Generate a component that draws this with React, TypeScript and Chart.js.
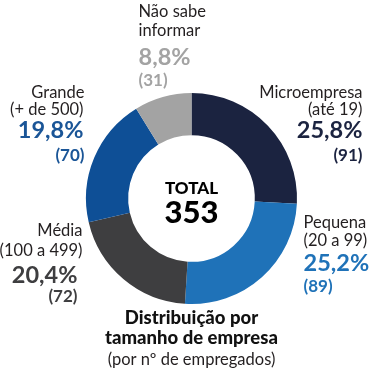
import React, { useEffect, useRef } from "react";
import { Chart, registerables } from "chart.js";

Chart.register(...registerables);

const categories = ["Microempresa", "Pequena", "Média", "Grande", "Não sabe"];
const subLabels = ["(até 19)", "(20 a 99)", "(100 a 499)", "(+ de 500)", "informar"];
const counts = [91, 89, 72, 70, 31];
const sliceColors = ["#1b2340", "#1f72b8", "#3e3e40", "#0e4f96", "#a3a3a3"];
const valueColors = ["#1b2340", "#1f72b8", "#3e3e40", "#1a5597", "#a3a3a3"];
const centerTitle = "TOTAL";
const captionLines = ["Distribuição por", "tamanho de empresa", "(por nº de empregados)"];

const FONT = "Lato, 'Open Sans', sans-serif";
const TEXT = "#231f20";

const total = counts.reduce((a, b) => a + b, 0);
const pct = (v: number) => ((v / total) * 100).toFixed(1).replace(".", ",") + "%";

// label layout: anchor offsets relative to doughnut center (dx, dy of first baseline), alignment
const labelLayout = [
  { dx: 171, dy: -101, align: "right", lines: [0, 17, 40, 63], xs: [0, 0, 0, 0] },
  { dx: 112, dy: 29, align: "left", lines: [0, 18, 43, 64], xs: [0, 0, 0, 0] },
  { dx: -109, dy: 37, align: "right", lines: [0, 20, 47, 66], xs: [0, 0, -5, -5] },
  { dx: -107, dy: -101, align: "right", lines: [0, 17, 40, 63], xs: [0, -1, -1, 0] },
  { dx: -53, dy: -182, align: "left", lines: [0, 19, 48, 69], xs: [0, 0, 0, 0] },
];

const labelPlugin = {
  id: "labels",
  afterDraw(chart: any) {
    const ctx = chart.ctx;
    const arc = chart.getDatasetMeta(0).data[0];
    const cx = arc.x;
    const cy = arc.y;
    ctx.save();
    ctx.textBaseline = "alphabetic";
    categories.forEach((cat, i) => {
      const L = labelLayout[i];
      const x = cx + L.dx;
      const y = cy + L.dy;
      ctx.textAlign = L.align;
      ctx.fillStyle = TEXT;
      ctx.font = `400 16.5px ${FONT}`;
      ctx.fillText(cat, x + L.xs[0], y + L.lines[0]);
      ctx.fillText(subLabels[i], x + L.xs[1], y + L.lines[1]);
      ctx.fillStyle = valueColors[i];
      ctx.font = `700 23.5px ${FONT}`;
      ctx.fillText(pct(counts[i]), x + L.xs[2], y + L.lines[2]);
      ctx.font = `700 17px ${FONT}`;
      ctx.fillText(`(${counts[i]})`, x + L.xs[3], y + L.lines[3]);
    });
    ctx.textAlign = "center";
    ctx.fillStyle = "#000";
    ctx.font = `900 17px ${FONT}`;
    ctx.fillText(centerTitle, cx, cy - 5);
    ctx.font = `900 31px ${FONT}`;
    ctx.fillText(String(total), cx, cy + 24);
    ctx.fillStyle = "#111";
    ctx.font = `900 18.5px ${FONT}`;
    ctx.fillText(captionLines[0], cx, cy + 125);
    ctx.fillText(captionLines[1], cx, cy + 145);
    ctx.fillStyle = TEXT;
    ctx.font = `400 16.5px ${FONT}`;
    ctx.fillText(captionLines[2], cx, cy + 166);
    ctx.restore();
  },
};

export default function App() {
  const ref = useRef<HTMLCanvasElement>(null);
  useEffect(() => {
    const chart = new Chart(ref.current!, {
      type: "doughnut",
      data: {
        labels: categories,
        datasets: [
          {
            data: counts,
            backgroundColor: sliceColors,
            borderWidth: 0,
          },
        ],
      },
      options: {
        responsive: true,
        maintainAspectRatio: false,
        animation: false,
        cutout: "60%",
        layout: { padding: { left: 86, right: 82, top: 93, bottom: 71 } },
        plugins: { legend: { display: false }, tooltip: { enabled: false } },
      },
      plugins: [labelPlugin],
    });
    return () => chart.destroy();
  }, []);
  return (
    <div style={{ position: "fixed", left: 0, top: 0, width: 379, height: 375, background: "#fff" }}>
      <canvas ref={ref} />
    </div>
  );
}
